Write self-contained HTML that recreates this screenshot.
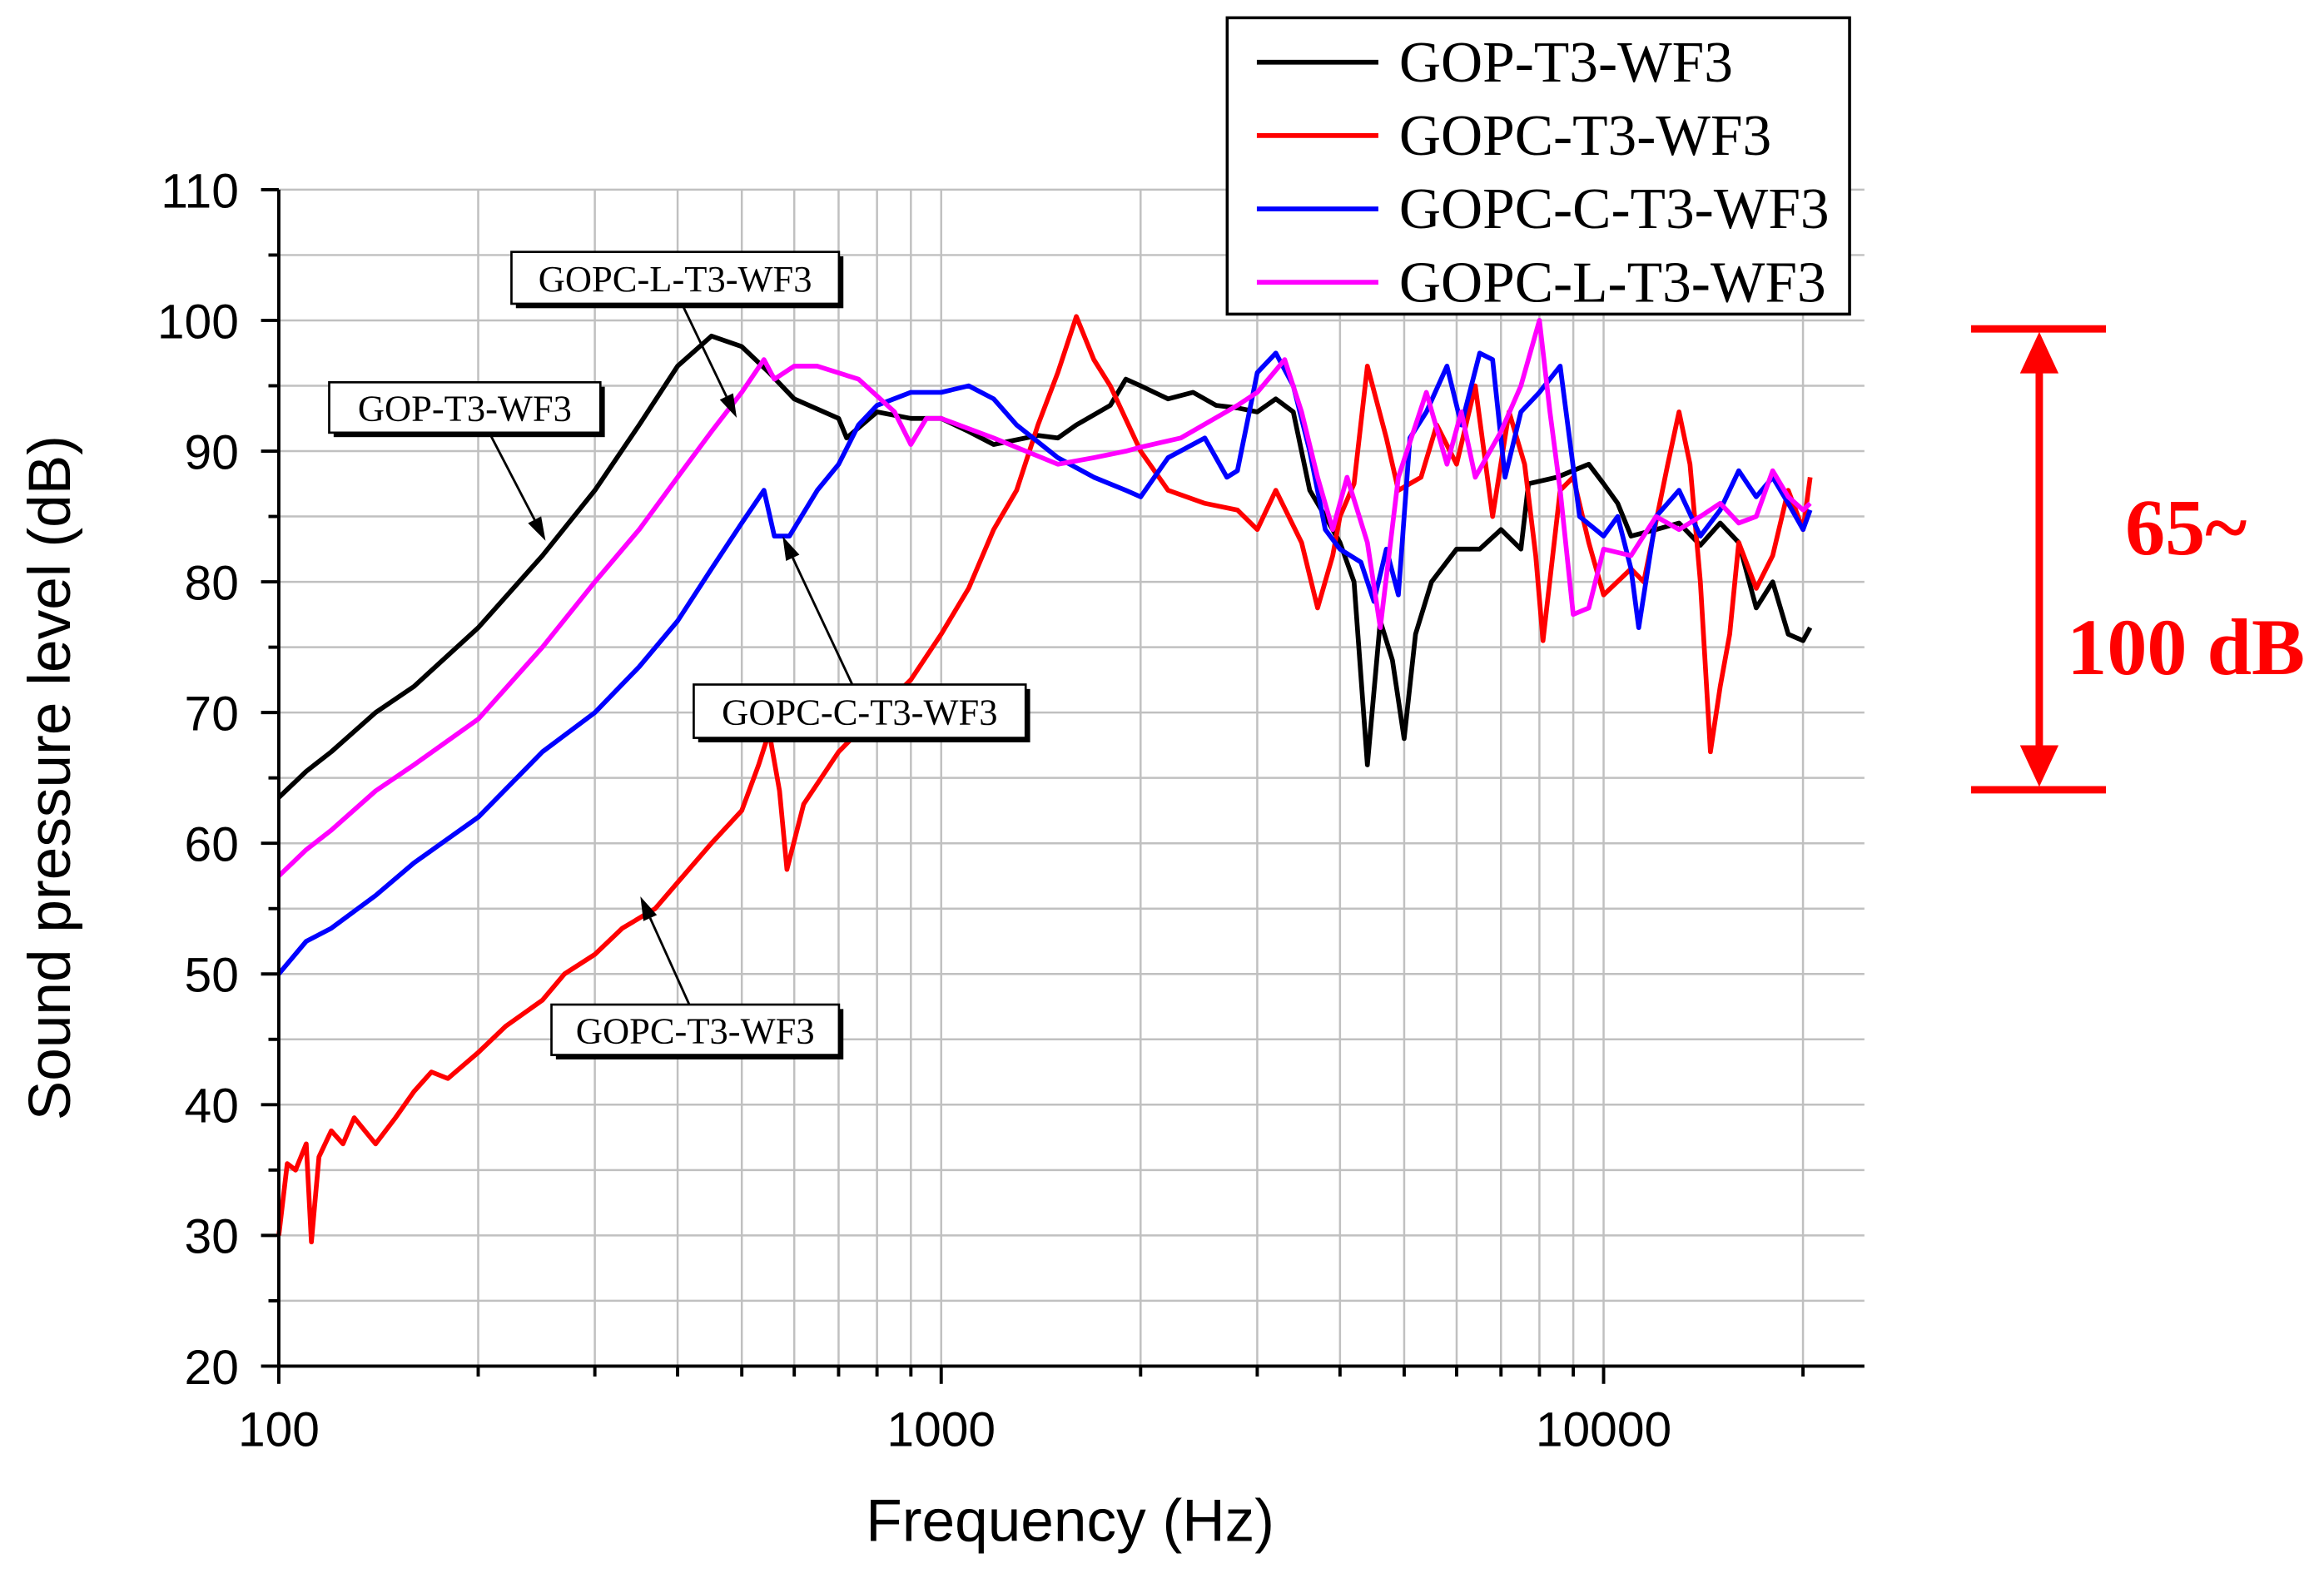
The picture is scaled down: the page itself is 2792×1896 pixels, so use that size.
<!DOCTYPE html>
<html><head><meta charset="utf-8"><style>
html,body{margin:0;padding:0;background:#fff;}
svg{display:block;}
.tk{font-family:"Liberation Sans",sans-serif;font-size:33px;fill:#000;}
.ser{font-family:"Liberation Serif",serif;}
</style></head><body>
<svg id="chart" width="2792" height="1896" viewBox="0 0 1568 1065" xmlns="http://www.w3.org/2000/svg">
<rect width="1568" height="1065" fill="#fff"/>
<g id="grid"></g>
<g id="series"></g>
<g id="axes"></g>
</svg>
<script>
const blackF=[100,110,120,140,160,200,250,300,350,400,450,500,550,600,700,720,800,900,1000,1100,1200,1400,1500,1600,1800,1900,2000,2200,2400,2600,2800,3000,3200,3400,3600,3800,4000,4200,4400,4600,4800,5000,5200,5500,6000,6500,7000,7500,7700,8500,9500,10000,10500,11000,12000,13000,14000,15000,16000,17000,18000,19000,20000,20500];
const blackV=[63.5,65.5,67,70,72,76.5,82,87,92,96.5,98.8,98,96,94,92.5,91,93,92.5,92.5,91.5,90.5,91.2,91,92,93.5,95.5,95,94,94.5,93.5,93.3,93,94,93,87,85,83,80,66,77,74,68,76,80,82.5,82.5,84,82.5,87.5,88,89,87.5,86,83.5,84,84.5,82.8,84.5,83,78,80,76,75.5,76.5];
const redF=[100,103,106,110,112,115,120,125,130,140,150,160,170,180,200,220,250,270,300,330,370,400,450,500,530,550,570,585,620,700,800,900,1000,1100,1200,1300,1400,1500,1600,1700,1800,2000,2200,2500,2800,3000,3200,3500,3700,3900,4000,4200,4400,4700,4900,5300,5600,6000,6400,6800,7200,7600,7900,8100,8600,9000,9500,10000,11000,11500,12500,13000,13500,14000,14500,15000,15500,16000,17000,18000,19000,20000,20500];
const redV=[30,35.5,35,37,29.5,36,38,37,39,37,39,41,42.5,42,44,46,48,50,51.5,53.5,55,57,60,62.5,66,68.5,64,58,63,67,70,72.5,76,79.5,84,87,92,96,100.3,97,95,90,87,86,85.5,84,87,83,78,82,85,87.5,96.5,91,87,88,92,89,95,85,93,89,82,75.5,87,88,83,79,81,80,89,93,89,80,67,72,76,83,79.5,82,87,84,88];
const blueF=[100,110,120,140,160,200,250,300,350,400,450,500,540,560,590,650,700,750,800,900,1000,1100,1200,1300,1500,1700,1900,2000,2200,2500,2700,2800,3000,3200,3400,3600,3800,4000,4300,4500,4700,4900,5100,5400,5800,6100,6500,6800,7100,7500,8000,8600,9200,10000,10500,11000,11300,12000,13000,14000,15000,16000,17000,18000,19000,20000,20500];
const blueV=[50,52.5,53.5,56,58.5,62,67,70,73.5,77,81,84.5,87,83.5,83.5,87,89,92,93.5,94.5,94.5,95,94,92,89.5,88,87,86.5,89.5,91,88,88.5,96,97.5,95,90,84,82.5,81.5,78.5,82.5,79,91,93,96.5,92,97.5,97,88,93,94.5,96.5,85,83.5,85,81,76.5,85,87,83.5,85.5,88.5,86.5,88,86,84,85.5];
const magF=[100,110,120,140,160,200,250,300,350,400,450,500,540,560,600,650,750,850,900,950,1000,1200,1500,1700,1900,2000,2300,2800,3000,3300,3500,3700,3900,4100,4400,4600,4900,5400,5800,6100,6400,7000,7500,8000,8300,8600,9000,9500,10000,11000,12000,13000,14000,15000,16000,17000,18000,19000,20000,20500];
const magV=[57.5,59.5,61,64,66,69.5,75,80,84,88,91.5,94.5,97,95.5,96.5,96.5,95.5,93,90.5,92.5,92.5,91,89,89.5,90,90.3,91,93.5,94.5,97,93,88,84,88,83,76.5,88,94.5,89,93,88,91.5,95,100,93,87,77.5,78,82.5,82,85,84,85,86,84.5,85,88.5,86.5,85.5,86];
const yTicks=[20,30,40,50,60,70,80,90,100,110];
const xTicks=[100,1000,10000];
const xTickLabels=["100","1000","10000"];
const legendNames=["GOP-T3-WF3","GOPC-T3-WF3","GOPC-C-T3-WF3","GOPC-L-T3-WF3"];
const colors=["#000000","#ff0000","#0000ff","#ff00ff"];

const NS="http://www.w3.org/2000/svg";
const X0=188,DEC=447,YB=922,YPER=8.822;
const xs=f=>X0+DEC*Math.log10(f/100);
const ys=v=>YB-(v-20)*YPER;
const XR=1258,YT=ys(110);
function mk(tag,attrs,parent){const e=document.createElementNS(NS,tag);for(const k in attrs)e.setAttribute(k,attrs[k]);parent.appendChild(e);return e;}
const grid=document.getElementById('grid'),ser=document.getElementById('series'),ax=document.getElementById('axes'),svg=document.getElementById('chart');

for(let d=100;d<=10000;d*=10){for(let m=1;m<=9;m++){const f=d*m;const x=xs(f);if(x>XR)continue;if(f===100)continue;
const l=mk('line',{x1:x,x2:x,y1:YT,y2:YB,stroke:'#c0c0c0','stroke-width':1.4},grid);

}}
for(let v=25;v<=110;v+=5){const y=ys(v);
const l=mk('line',{x1:X0,x2:XR,y1:y,y2:y,stroke:'#c0c0c0','stroke-width':1.4},grid);

}

const all=[[blackF,blackV],[redF,redV],[blueF,blueV],[magF,magV]];
all.forEach((s,i)=>{const pts=s[0].map((f,j)=>xs(f).toFixed(1)+','+ys(s[1][j]).toFixed(1)).join(' ');
const p=mk('polyline',{points:pts,fill:'none',stroke:colors[i],'stroke-width':3.2,'stroke-linejoin':'round'},ser);

});

let a=mk('line',{x1:X0,x2:X0,y1:YT,y2:YB,stroke:'#000','stroke-width':2.2},ax);


a=mk('line',{x1:X0,x2:XR,y1:YB,y2:YB,stroke:'#000','stroke-width':2.2},ax);


for(let v=20;v<=110;v+=5){const y=ys(v);mk('line',{x1:v%10===0?X0-12:X0-7,x2:X0,y1:y,y2:y,stroke:'#000','stroke-width':2.2},ax);}
yTicks.forEach(v=>{const t=mk('text',{x:161,y:ys(v)+12,'text-anchor':'end',class:'tk'},ax);t.textContent=v;

});
for(let d=100;d<=10000;d*=10){for(let m=1;m<=9;m++){const x=xs(d*m);if(x>XR)continue;mk('line',{x1:x,x2:x,y1:YB,y2:YB+(m===1?12:7),stroke:'#000','stroke-width':2.2},ax);}}
xTicks.forEach((f,i)=>{const t=mk('text',{x:xs(f),y:976,'text-anchor':'middle',class:'tk'},ax);t.textContent=xTickLabels[i];

});
let t=mk('text',{x:722,y:1040,'text-anchor':'middle',class:'tk',style:'font-size:40px'},ax);t.textContent='Frequency (Hz)';


t=mk('text',{x:0,y:0,'text-anchor':'middle',class:'tk',style:'font-size:40px',transform:'translate(47,525) rotate(-90)'},ax);t.textContent='Sound pressure level (dB)';



const lg=mk('g',{},svg);


mk('rect',{x:828,y:12,width:420,height:200,fill:'#fff',stroke:'#000','stroke-width':2},lg);
legendNames.forEach((n,i)=>{const y=42+i*49.5;
mk('line',{x1:848,x2:930,y1:y,y2:y,stroke:colors[i],'stroke-width':3.2},lg);
const tt=mk('text',{x:944,y:y+13,class:'ser','font-size':39},lg);tt.textContent=n;

});

const ann=[["GOPC-L-T3-WF3",345,170,221,35,460,205,497,282],["GOP-T3-WF3",222,258,183,34,330,292,368,365],["GOPC-C-T3-WF3",468,462,224,36,575,462,528,362],["GOPC-T3-WF3",372,678,194,34,465,678,432,605]];
ann.forEach(a=>{const g=mk('g',{},svg);


mk('rect',{x:a[1]+3,y:a[2]+3,width:a[3],height:a[4],fill:'#000'},g);
mk('rect',{x:a[1],y:a[2],width:a[3],height:a[4],fill:'#fff',stroke:'#000','stroke-width':1.5},g);
const tt=mk('text',{x:a[1]+a[3]/2,y:a[2]+a[4]/2+9,'text-anchor':'middle',class:'ser','font-size':25},g);tt.textContent=a[0];
const dx=a[7]-a[5],dy=a[8]-a[6],L=Math.hypot(dx,dy),ux=dx/L,uy=dy/L;
const bx=a[7]-ux*16,by=a[8]-uy*16;
mk('line',{x1:a[5],y1:a[6],x2:bx,y2:by,stroke:'#000','stroke-width':1.6},g);
mk('polygon',{points:`${a[7]},${a[8]} ${bx-uy*5},${by+ux*5} ${bx+uy*5},${by-ux*5}`,fill:'#000'},g);});

const rm=mk('g',{},svg);


mk('line',{x1:1330,x2:1421,y1:222,y2:222,stroke:'#f00','stroke-width':5},rm);
mk('line',{x1:1330,x2:1421,y1:533,y2:533,stroke:'#f00','stroke-width':5},rm);
mk('line',{x1:1376,x2:1376,y1:240,y2:515,stroke:'#f00','stroke-width':5},rm);
mk('polygon',{points:'1376,224 1363,252 1389,252',fill:'#f00'},rm);
mk('polygon',{points:'1376,531 1363,503 1389,503',fill:'#f00'},rm);
t=mk('text',{x:1475,y:374,'text-anchor':'middle',class:'ser','font-size':54,'font-weight':'bold',fill:'#f00'},rm);t.textContent='65~';
t=mk('text',{x:1475,y:455,'text-anchor':'middle',class:'ser','font-size':54,'font-weight':'bold',fill:'#f00'},rm);t.textContent='100 dB';
</script>
</body></html>
